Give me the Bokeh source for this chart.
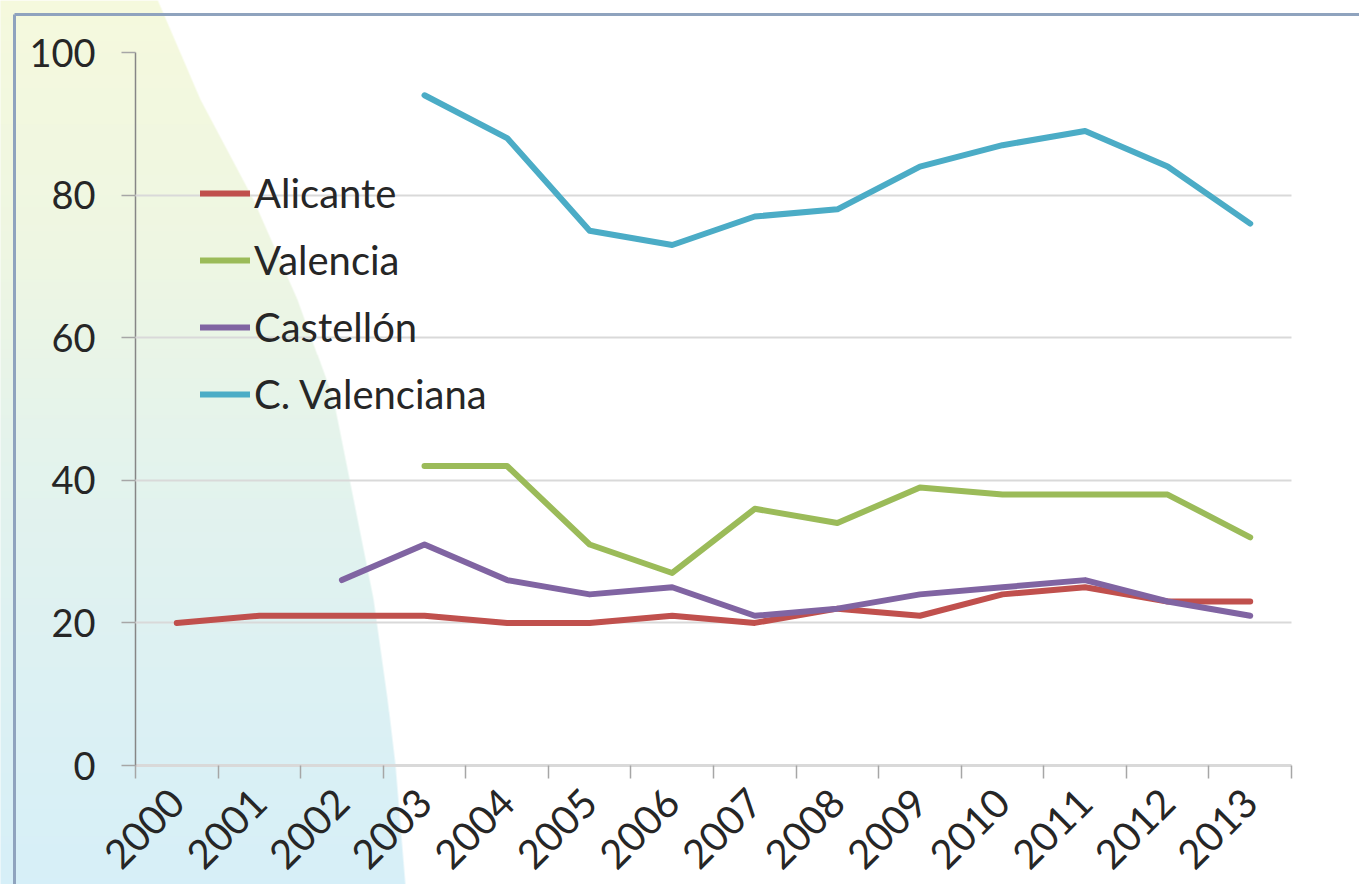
import math
import numpy as np
from bokeh.plotting import figure
from bokeh.models import Range1d, FixedTicker, Legend, LegendItem
from bokeh.embed import file_html
from bokeh.resources import INLINE

# ---------------- data ----------------
years = ["2000", "2001", "2002", "2003", "2004", "2005", "2006",
         "2007", "2008", "2009", "2010", "2011", "2012", "2013"]
alicante = [20, 21, 21, 21, 20, 20, 21, 20, 22, 21, 24, 25, 23, 23]
valencia = [None, None, None, 42, 42, 31, 27, 36, 34, 39, 38, 38, 38, 32]
castellon = [None, None, 26, 31, 26, 24, 25, 21, 22, 24, 25, 26, 23, 21]
c_valenciana = [None, None, None, 94, 88, 75, 73, 77, 78, 84, 87, 89, 84, 76]
series_names = ["Alicante", "Valencia", "Castellón", "C. Valenciana"]
series_colors = ["#c0504d", "#9bbb59", "#8064a2", "#4bacc6"]
y_ticks = [0, 20, 40, 60, 80, 100]

FONT = "Lato"
TXT = "#262626"

W, H = 1359, 884
SW, SH = 1367, 892
# frame (pixel coords)
FL, FR, FT, FB = 135, 1291, 52, 767

p = figure(width=W, height=H, output_backend="svg", toolbar_location=None,
           x_range=Range1d(0, len(years)), y_range=Range1d(0, 100),
           min_border_left=FL, min_border_right=W - FR,
           min_border_top=FT, min_border_bottom=H - FB)
p.outline_line_color = None
p.background_fill_color = "white"
p.border_fill_color = "white"

# pixel ranges for decoration (y measured upward from the bottom of the page)
p.extra_x_ranges = {"px": Range1d(FL, FR)}
p.extra_y_ranges = {"px": Range1d(SH - FB, SH - FT)}

# decorative gradient shape on the left (background image)
by = [0, 100, 200, 300, 400, 500, 600, 700, 767, 900]
bx = [157, 200, 253, 297, 333, 353, 373, 387, 395, 406]
cy = [0, 250, 450, 650, 900]
cr = [245, 238, 228, 221, 214]
cg = [249, 246, 243, 241, 239]
cb = [221, 226, 236, 242, 248]
rows = np.arange(SH) + 0.5
cols_ = np.arange(SW) + 0.5
xb = np.interp(rows, by, bx)
alpha = np.clip(xb[:, None] - cols_[None, :] + 0.5, 0, 1)
img = np.zeros((SH, SW, 4), dtype=np.uint8)
img[..., 0] = np.round(np.interp(rows, cy, cr))[:, None]
img[..., 1] = np.round(np.interp(rows, cy, cg))[:, None]
img[..., 2] = np.round(np.interp(rows, cy, cb))[:, None]
img[..., 3] = np.round(alpha * 255)
img32 = np.ascontiguousarray(img.view(np.uint32).reshape(SH, SW)[::-1])
p.image_rgba(image=[img32], x=0, y=0, dw=SW, dh=SH,
             x_range_name="px", y_range_name="px", level="guide")

# border frame lines
p.segment(x0=[14, 14], y0=[SH - 14, SH - 14], x1=[1400, 14], y1=[SH - 14, -20],
          line_color="#8fa3be", line_width=3,
          x_range_name="px", y_range_name="px", level="guide")

# ---------------- axes ----------------
centers = [i + 0.5 for i in range(len(years))]
bounds = [float(i) for i in range(len(years) + 1)]

xa = p.xaxis[0]
xa.ticker = FixedTicker(ticks=centers, minor_ticks=bounds)
xa.major_label_overrides = {c: y for c, y in zip(centers, years)}
xa.major_tick_out = 0
xa.major_tick_in = 0
xa.minor_tick_out = 13
xa.minor_tick_in = 0
xa.minor_tick_line_color = "#a6a6a6"
xa.minor_tick_line_width = 1.5
xa.axis_line_color = "#d9d9d9"
xa.axis_line_width = 3
xa.major_label_orientation = math.pi / 4
xa.major_label_text_font = FONT
xa.major_label_text_font_size = "40px"
xa.major_label_text_color = TXT
xa.major_label_standoff = 17
xa.level = "annotation"

ya = p.yaxis[0]
ya.ticker = FixedTicker(ticks=y_ticks)
ya.major_tick_out = 14
ya.major_tick_in = 0
ya.major_tick_line_color = "#a6a6a6"
ya.major_tick_line_width = 1.5
ya.minor_tick_out = 0
ya.minor_tick_in = 0
ya.axis_line_color = "#868686"
ya.axis_line_width = 1.5
ya.major_label_text_font = FONT
ya.major_label_text_font_size = "38px"
ya.major_label_text_color = TXT
ya.major_label_standoff = 26
ya.level = "annotation"

p.xgrid.visible = False
p.ygrid.ticker = FixedTicker(ticks=y_ticks)
p.ygrid.grid_line_color = "#d9d9d9"
p.ygrid.grid_line_width = 2
p.ygrid.level = "annotation"

# ---------------- lines ----------------
items = []
for name, vals, col in zip(series_names,
                           [alicante, valencia, castellon, c_valenciana],
                           series_colors):
    xx = [c for c, v in zip(centers, vals) if v is not None]
    yy = [v for v in vals if v is not None]
    r = p.line(xx, yy, line_color=col, line_width=6, line_join="round",
               line_cap="round", level="overlay")
    items.append(LegendItem(label=name, renderers=[r]))

legend = Legend(items=items, location=(65, 347), orientation="vertical",
                glyph_width=50, glyph_height=48, label_height=48, spacing=19,
                padding=0, margin=0, label_standoff=4,
                label_text_font=FONT, label_text_font_size="40px",
                label_text_color=TXT,
                background_fill_alpha=0, border_line_alpha=0)
p.add_layout(legend, "center")

open("out.html", "w").write(file_html(p, INLINE))
